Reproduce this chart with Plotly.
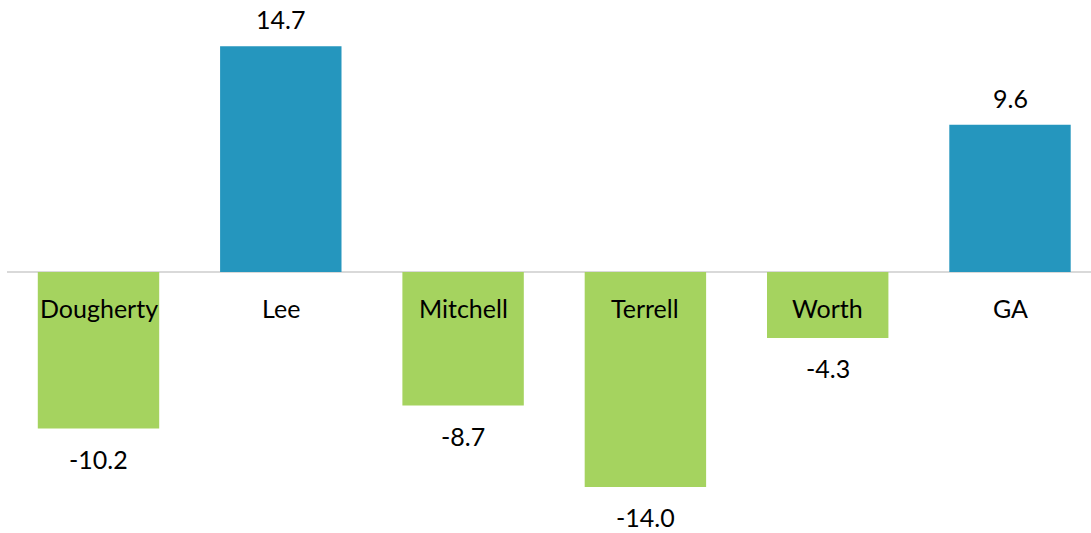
import plotly.graph_objects as go

categories = ["Dougherty", "Lee", "Mitchell", "Terrell", "Worth", "GA"]
values = [-10.2, 14.7, -8.7, -14.0, -4.3, 9.6]
value_labels = ["-10.2", "14.7", "-8.7", "-14.0", "-4.3", "9.6"]

BLUE = "#2596BE"
GREEN = "#A5D35F"
colors = [BLUE if v >= 0 else GREEN for v in values]
FONT = "Lato, Calibri, Carlito, sans-serif"

fig = go.Figure(go.Bar(
    x=categories, y=values, marker=dict(color=colors, line=dict(width=0)),
    width=0.666, hoverinfo="skip"))

annotations = []
for c, v, lab in zip(categories, values, value_labels):
    annotations.append(dict(x=c, y=v, text=lab, showarrow=False, xref="x", yref="y",
                            yanchor="middle", yshift=27 if v >= 0 else -30,
                            font=dict(family=FONT, size=25, color="#000000")))
    annotations.append(dict(x=c, y=0, text=c, showarrow=False, xref="x", yref="y",
                            yanchor="middle", yshift=-36,
                            font=dict(family=FONT, size=25, color="#000000")))

fig.update_layout(
    width=1091, height=533,
    margin=dict(l=7, r=0, t=0, b=0),
    paper_bgcolor="white", plot_bgcolor="white",
    showlegend=False,
    annotations=annotations,
    xaxis=dict(range=[-0.5019, 5.4443], showticklabels=False, showgrid=False,
               zeroline=False, showline=False, ticks="", fixedrange=True),
    yaxis=dict(range=[-17.003, 17.72], showticklabels=False, showgrid=False,
               zeroline=True, zerolinecolor="#D9D9D9", zerolinewidth=2,
               showline=False, ticks="", fixedrange=True),
)

fig.write_html("out.html",
               config={"displayModeBar": False},
               post_script="document.body.style.margin='0';document.body.style.overflow='hidden';")
